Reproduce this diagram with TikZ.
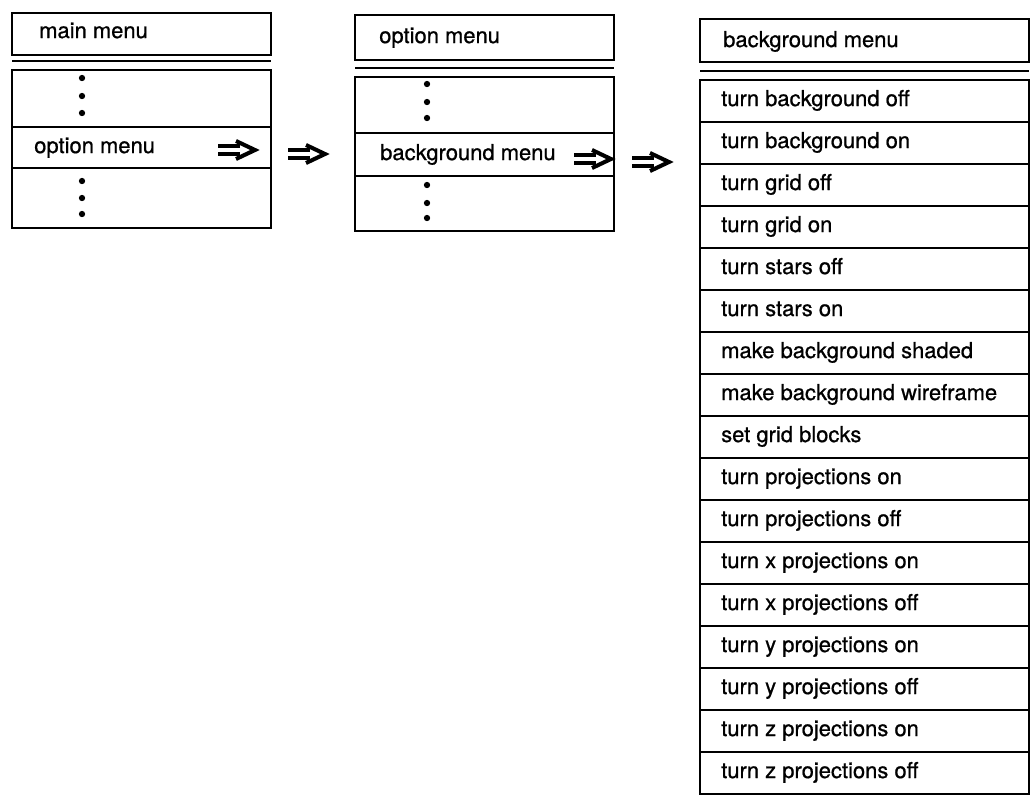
\documentclass[tikz,border=0pt]{standalone}
\usepackage{fontspec}
\setmainfont{TeX Gyre Heros}
\newfontfamily\menufont{TeX Gyre Heros}[FakeBold=0.8]
\begin{document}
\begin{tikzpicture}[x=0.02cm,y=-0.02cm,line width=1.4pt,
  lbl/.style={anchor=west,inner sep=0pt,text height=1.6ex,text depth=0.5ex,font=\menufont\fontsize{12.5}{14}\selectfont},
  dot/.style={fill,circle,inner sep=0pt,minimum size=3.6pt},
  dblarr/.pic={\draw[line width=2.3pt](0,-4)--(22,-4)(0,4)--(22,4);
    \draw[line width=2.3pt,line join=miter](18,-9)--(37,0)--(18,9);}]
\useasboundingbox (0,0) rectangle (1035,795);
% main menu
\draw (12,13) rectangle (271,55);
\draw (12,61)--(271,61);
\draw (12,70) rectangle (271,228) (12,127)--(271,127) (12,168)--(271,168);
\node[lbl] (mainhd) at (38,33) {main menu};
\node[lbl] (mainopt) at (33,148) {option menu};
\foreach \y in {78,96,113,181,198,214}\node[dot] at (82,\y) {};
\pic at (218,150) {dblarr};
\pic at (288,154) {dblarr};
% option menu
\draw (355,15) rectangle (614,60);
\draw (355,68)--(614,68);
\draw (355,77) rectangle (614,231) (355,133)--(614,133) (355,176)--(614,176);
\node[lbl] (opthd) at (378,38) {option menu};
\node[lbl] (optbg) at (379,155) {background menu};
\foreach \y in {84,102,118,185,203,218}\node[dot] at (427,\y) {};
\pic at (574,159) {dblarr};
\pic at (632,162) {dblarr};
% background menu
\draw (700,19) rectangle (1029,62);
\draw (700,71)--(1029,71);
\draw (700,80) rectangle (1029,794);
\node[lbl] (bghd) at (722,42) {background menu};
\foreach \t [count=\i] in {turn background off,turn background on,turn grid off,turn grid on,
  turn stars off,turn stars on,make background shaded,make background wireframe,set grid blocks,
  turn projections on,turn projections off,turn x projections on,turn x projections off,
  turn y projections on,turn y projections off,turn z projections on,turn z projections off}{
  \node[lbl] (bg\i) at (720,{80+42*\i-21}) {\t};
  \ifnum\i<17 \draw (700,{80+42*\i})--(1029,{80+42*\i});\fi}
\end{tikzpicture}
\end{document}
